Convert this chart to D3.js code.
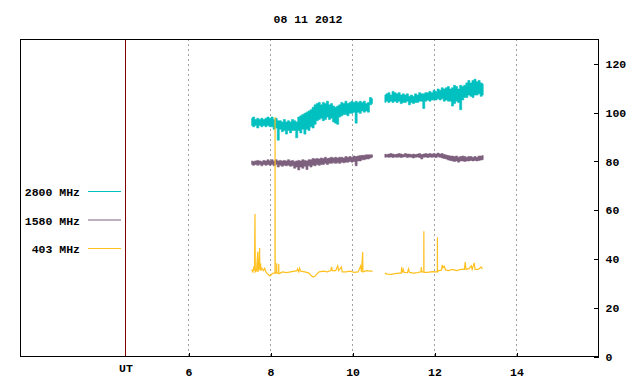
<!DOCTYPE html>
<html>
<head>
<meta charset="utf-8">
<script src="https://cdn.jsdelivr.net/npm/d3@7"></script>
<style>
  body { margin: 0; background: #fff; }
  svg { display: block; }
  text { font-family: 'Liberation Mono', 'DejaVu Sans Mono', monospace; font-weight: bold; font-size: 11.5px; fill: #000; }
</style>
</head>
<body>
<div id="plot"></div>
<script>
'use strict';

const title = '08 11 2012'
const xTicks = [6, 8, 10, 12, 14]
const yTicks = [0, 20, 40, 60, 80, 100, 120]
const utAt = 4.46
const legendNames = ['2800 MHz', '1580 MHz', '403 MHz']
const col = ['#00c0c0', '#7d607d', '#ffc020']

// sample times (UT hours), two observing blocks
const times1 = [7.55, 7.60, 7.65, 7.70, 7.75, 7.80, 7.85, 7.90, 7.95, 8.00,
  8.05, 8.10, 8.15, 8.20, 8.25, 8.30, 8.35, 8.40, 8.45, 8.50,
  8.55, 8.60, 8.65, 8.70, 8.75, 8.80, 8.85, 8.90, 8.95, 9.00,
  9.05, 9.10, 9.15, 9.20, 9.25, 9.30, 9.35, 9.40, 9.45, 9.50,
  9.55, 9.60, 9.65, 9.70, 9.75, 9.80, 9.85, 9.90, 9.95, 10.00,
  10.05, 10.10, 10.15, 10.20, 10.25, 10.30, 10.35, 10.40, 10.45, 10.50]
const times2 = [10.80, 10.85, 10.90, 10.95, 11.00, 11.05, 11.10, 11.15, 11.20, 11.25,
  11.30, 11.35, 11.40, 11.45, 11.50, 11.55, 11.60, 11.65, 11.70, 11.75,
  11.80, 11.85, 11.90, 11.95, 12.00, 12.05, 12.10, 12.15, 12.20, 12.25,
  12.30, 12.35, 12.40, 12.45, 12.50, 12.55, 12.60, 12.65, 12.70, 12.75,
  12.80, 12.85, 12.90, 12.95, 13.00, 13.05, 13.10, 13.15, 13.20]

// 2800 MHz flux, min and max within each sample
const f2800aLo = [94.5, 94, 94.5, 93.5, 94.5, 94, 94.5, 94, 94.5, 94,
  94, 93, 93.5, 88.5, 93, 92, 92.5, 91, 92.5, 91.5,
  92.5, 92.5, 89.5, 92.5, 91.5, 93, 91, 93, 92.5, 94,
  93.5, 95, 96.5, 97, 97.5, 96.5, 97, 98, 97, 97.5,
  96, 95.5, 95, 98, 98.5, 99, 99, 98.5, 99.5, 99.5,
  100, 95.5, 100, 99.5, 100.5, 100, 100.5, 100, 103, 103.5]
const f2800aHi = [97.5, 98, 97, 97.5, 97, 97.5, 97, 97.5, 98, 97.5,
  98, 97, 97.5, 96.5, 96.5, 96, 97, 96, 96.5, 96,
  97, 96.5, 96, 98, 98.5, 99, 99.5, 100, 100.5, 101,
  102, 103, 103.5, 104, 103, 104, 103.5, 104.5, 103, 103.5,
  102.5, 102, 102.5, 103, 104, 103.5, 104.5, 103.5, 104, 104.5,
  104, 104.5, 104, 104.5, 104, 104.5, 103.5, 104, 106, 105.5]
const f2800bLo = [104, 104.5, 104, 104.5, 104, 104.5, 104, 104.5, 103.5, 104,
  104, 104.5, 103, 104, 103.5, 104, 104, 104.5, 104.5, 101.5,
  104.5, 105, 104.5, 105, 105, 105, 105.5, 105, 105.5, 104.5,
  105, 104.5, 104.5, 102.5, 103.5, 104.5, 104, 101, 105, 106,
  106, 107, 106.5, 106, 107, 107, 107.5, 106.5, 107]
const f2800bHi = [107, 107.5, 108, 107, 108.5, 108, 107.5, 108, 107, 107.5,
  107, 107.5, 106.5, 107, 106.5, 107.5, 107, 108, 107.5, 107.5,
  108, 108, 108.5, 108, 109, 108.5, 109.5, 109, 110, 109.5,
  110, 110.5, 109.5, 110, 111, 110.5, 109.5, 111, 110.5, 111,
  112, 113, 112, 113, 113.5, 112.5, 113, 112, 111.5]

// 1580 MHz flux, min and max within each sample
const f1580aLo = [78.5, 78.2, 78.5, 78.2, 78.5, 78, 78.5, 78.2, 78.5, 78.2,
  78.5, 78, 78.5, 77.5, 78.2, 77.8, 78.2, 78, 78.2, 77.8,
  78, 77, 77.5, 76.3, 77.5, 77, 77.8, 76.5, 78, 77.5,
  78.2, 78, 78.5, 78.2, 78.5, 78.5, 79, 78.5, 79, 79,
  79.2, 79, 79.2, 79, 79.5, 79.2, 79.5, 79.5, 79.8, 79.5,
  79.8, 78, 80, 80, 80.5, 80.5, 80.8, 80.8, 81.2, 81.5]
const f1580aHi = [80, 79.8, 80, 80.2, 80, 79.8, 80.2, 80, 80.5, 80,
  80.5, 80, 80.5, 80, 80.2, 80, 80.2, 80, 80.5, 80,
  80.2, 79.8, 80, 80.2, 80, 80.5, 80.2, 80, 80.5, 80.5,
  81, 80.8, 81, 80.8, 81.2, 81, 81.5, 81, 81.2, 81.5,
  81.2, 81.5, 81.2, 81.5, 81.5, 81.2, 81.8, 81.5, 81.8, 81.5,
  82, 81.8, 82, 82.2, 82.3, 82.3, 82.5, 82.5, 82.5, 82.5]
const f1580bLo = [81.5, 81.6, 81.5, 81.6, 81.4, 81.6, 81.5, 81.6, 81.4, 81.6,
  81.7, 81.4, 81.6, 81.5, 81.2, 81.5, 81.6, 81.4, 80.8, 81.5,
  81.6, 81.4, 81.6, 81.5, 81.6, 81.4, 81.7, 81.5, 81.2, 81,
  80.8, 80.4, 80.2, 80, 79.8, 80, 79.5, 80, 80, 79.8,
  80, 80, 80.2, 80, 80.2, 80, 80.2, 80.4, 80.5]
const f1580bHi = [82.8, 82.6, 82.8, 83, 82.8, 82.6, 82.8, 83, 82.8, 82.6,
  83, 82.8, 82.8, 82.6, 82.8, 82.6, 82.8, 83, 82.6, 82.8,
  83, 82.8, 83, 82.8, 83, 82.8, 83.2, 82.8, 83, 82.6,
  82.4, 82.2, 82, 82, 81.8, 82, 81.5, 81.8, 82, 81.8,
  81.5, 81.8, 81.8, 81.5, 81.8, 81.5, 82, 82, 82.2]

// 403 MHz: irregular times so the bursts stay thin
const t403a = [7.55, 7.58, 7.60, 7.62, 7.632, 7.64, 7.67, 7.70, 7.705, 7.72,
  7.725, 7.745, 7.75, 7.77, 7.775, 7.80, 7.84, 7.87, 7.90, 7.95,
  8.00, 8.04, 8.08, 8.12, 8.122, 8.125, 8.16, 8.162, 8.165, 8.21,
  8.212, 8.215, 8.25, 8.30, 8.40, 8.50, 8.60, 8.66, 8.67, 8.70,
  8.72, 8.75, 8.85, 8.95, 9.00, 9.05, 9.10, 9.15, 9.20, 9.30,
  9.40, 9.48, 9.50, 9.52, 9.60, 9.65, 9.67, 9.74, 9.76, 9.85,
  9.95, 10.05, 10.15, 10.21, 10.23, 10.26, 10.265, 10.35, 10.45, 10.50]
const f403a = [35.5, 34.5, 36, 35, 58.2, 34.5, 35, 42.8, 34.5, 40,
  35, 44.3, 35.5, 38, 35, 36, 35, 36, 34.5, 33.5,
  32.8, 33.5, 34, 34, 98, 34, 34.5, 38, 34, 34,
  37.7, 33.8, 34, 34.5, 34.2, 34.5, 34.8, 35, 35.7, 34.5,
  36, 34.8, 34.5, 34, 33, 32.4, 32.8, 33.8, 34.5, 34.8,
  34.5, 35, 36.5, 35, 35, 37, 35, 36.5, 34.5, 34.5,
  34.8, 34.3, 34.5, 36.9, 34.5, 42.6, 34.5, 35, 34.8, 34.8]
const t403b = [10.80, 10.85, 10.95, 11.05, 11.15, 11.20, 11.21, 11.22, 11.25, 11.27,
  11.35, 11.38, 11.40, 11.50, 11.60, 11.68, 11.69, 11.70, 11.75, 11.752,
  11.755, 11.85, 11.95, 12.05, 12.08, 12.082, 12.085, 12.12, 12.18, 12.20,
  12.22, 12.25, 12.28, 12.35, 12.45, 12.55, 12.65, 12.74, 12.76, 12.78,
  12.85, 12.91, 12.93, 12.98, 13.00, 13.08, 13.15, 13.18]
const f403b = [34, 33.6, 33.5, 33.8, 34, 34, 36.5, 34.2, 35.5, 34.3,
  34.2, 35.8, 34.3, 34, 34.2, 34.5, 36.5, 34.5, 34.5, 51.2,
  34.3, 34.3, 34.6, 34.5, 34.5, 48.7, 34.5, 35, 35.2, 37.3,
  36.2, 36.8, 35.3, 35, 35.5, 35, 35.5, 35.5, 38.5, 35.5,
  35.8, 37, 35.5, 38.2, 35.5, 35.5, 36.5, 35.7]

const bands = [
  {color: col[0], parts: [[times1, f2800aLo, f2800aHi], [times2, f2800bLo, f2800bHi]]},
  {color: col[1], parts: [[times1, f1580aLo, f1580aHi], [times2, f1580bLo, f1580bHi]]}
]
const lines = [
  {color: col[2], parts: [[t403a, f403a], [t403b, f403b]]}
]

function updatePlot() {
  let width = 640;
  let height = 384;
  let left = 20, right = 598, top = 39, bottom = 356;
  let sel = d3.select('#plot');
  sel.selectAll('*').remove();
  let svg = sel.append('svg')
    .attr('width', width)
    .attr('height', height)
  let x = d3.scaleLinear()
    .domain([1.9, 16])
    .range([left, right]);
  let y = d3.scaleLinear()
    .domain([0, 130])
    .range([bottom, top]);

  // dotted grid at the hour ticks
  svg.append('g')
    .selectAll('line')
    .data(xTicks)
    .enter()
    .append('line')
    .attr('x1', d => Math.round(x(d)) + 0.5)
    .attr('x2', d => Math.round(x(d)) + 0.5)
    .attr('y1', top)
    .attr('y2', bottom)
    .attr('stroke', '#a0a0a0')
    .attr('stroke-dasharray', '2,3');

  // UT reference line
  svg.append('line')
    .attr('x1', Math.round(x(utAt)) + 0.5)
    .attr('x2', Math.round(x(utAt)) + 0.5)
    .attr('y1', top)
    .attr('y2', bottom)
    .attr('stroke', '#800000');

  // noisy channels: fill between sample min and max
  let area = d3.area()
    .curve(d3.curveStep)
    .x(d => x(d[0]))
    .y0(d => y(d[1]))
    .y1(d => y(d[2]));
  bands.forEach(function(s) {
    s.parts.forEach(function(p) {
      let pts = p[0].map((t, i) => [t, p[1][i], p[2][i]]);
      svg.append('path')
        .attr('d', area(pts))
        .attr('fill', s.color)
        .attr('stroke', s.color)
        .attr('stroke-width', 0.6);
    })
  })

  let line = d3.line()
    .x(d => x(d[0]))
    .y(d => y(d[1]));
  lines.forEach(function(s) {
    s.parts.forEach(function(p) {
      let pts = p[0].map((t, i) => [t, p[1][i]]);
      svg.append('path')
        .attr('d', line(pts))
        .attr('fill', 'none')
        .attr('stroke', s.color)
        .attr('stroke-width', 1.2);
    })
  })

  // frame
  svg.append('rect')
    .attr('x', left + 0.5)
    .attr('y', top + 0.5)
    .attr('width', right - left)
    .attr('height', bottom - top)
    .attr('fill', 'none')
    .attr('stroke', '#000')
    .attr('shape-rendering', 'crispEdges');

  let x_axis = d3.axisBottom()
    .scale(x)
    .tickValues(xTicks)
    .tickSize(-4)
    .tickPadding(11)
    .tickFormat(d3.format('d'))
  let y_axis = d3.axisRight()
    .scale(y)
    .tickValues(yTicks)
    .tickSize(-5)
    .tickPadding(7)
  let gx = svg.append('g')
    .attr('transform', `translate(0.5, ${bottom + 0.5})`)
    .call(x_axis);
  let gy = svg.append('g')
    .attr('transform', `translate(${right + 0.5}, 0.5)`)
    .call(y_axis);
  [gx, gy].forEach(function(g) {
    g.attr('font-family', null).attr('font-size', null);
    g.select('.domain').remove();
    g.selectAll('.tick line').attr('stroke', '#000').attr('shape-rendering', 'crispEdges');
  })

  svg.append('text')
    .attr('x', x(utAt) + 1)
    .attr('y', 372)
    .attr('text-anchor', 'middle')
    .text('UT')

  svg.append('text')
    .attr('x', 308)
    .attr('y', 23)
    .attr('text-anchor', 'middle')
    .text(title)

  // legend
  let legend = svg.append('g')
    .selectAll('g')
    .data(legendNames)
    .enter()
    .append('g')
    .attr('transform', (d, i) => `translate(0, ${191.5 + i * 28.5})`)
  legend.append('text')
    .attr('x', 80)
    .attr('y', 4.5)
    .attr('text-anchor', 'end')
    .text(d => d)
  legend.append('line')
    .attr('x1', 88)
    .attr('x2', 121)
    .attr('y1', 0)
    .attr('y2', 0)
    .attr('stroke', d => col[legendNames.indexOf(d)])
}

updatePlot();
</script>
</body>
</html>
